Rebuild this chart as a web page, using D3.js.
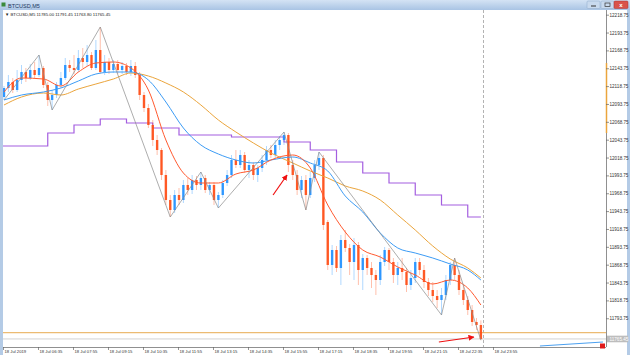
<!DOCTYPE html>
<html><head><meta charset="utf-8">
<script src="https://cdn.jsdelivr.net/npm/d3@7"></script>
<style>html,body{margin:0;padding:0;background:#fff;overflow:hidden}text{font-family:"Liberation Sans",Arial,sans-serif}</style>
</head><body><svg id="c" width="630" height="355"></svg>
<script>
const windowTitle = "BTCUSD,M5";
const header = "\u25BC BTCUSD,M5  11785.00 11791.45 11763.80 11765.45";

const open = [12104.2,12116.8,12125.2,12114,12128,12139.2,12130.8,12142,12135,12144.8,12121,12100,12107,12121,12130.8,
12149,12144.8,12142,12158.8,12153.2,12163,
12144.8,12170,12139.2,12153.2,12142,12150.4,12142,12147.6,12139.2,12147.6,
12135,12107,12088.8,12065,12044,12030,11995,11960,11946,11967,
11960,11981,11974,11988,11981,11990.8,11974,11981,11960,
11967,11983.8,11995,12016,12009,12023,12002,12009,11995,12004.8,
12016,12030,12023,12037,12044,12051,12009,11995,11974,11988,
11967,11990.8,12009,12018.8,11929.2,11869,11890,11864.8,11904,11892.8,
11873.2,11897,11862,11878.8,11864.8,11855,11848,11873.2,11890,11873.2,
11855,11864.8,11859.2,11841,11850.8,11873.2,11862,11845.2,11834,11825.6,
11820,11827,11848,11869,11855,11834,11820,11806,11789.2,11785];
const close = [12116.8,12125.2,12114,12128,12139.2,12130.8,12142,12135,12144.8,12121,12100,12107,12121,12130.8,12149,
12144.8,12142,12158.8,12153.2,12163,12144.8,
12170,12139.2,12153.2,12142,12150.4,12142,12147.6,12139.2,12147.6,12135,
12107,12088.8,12065,12044,12030,11995,11960,11946,11967,11960,
11981,11974,11988,11981,11990.8,11974,11981,11960,11967,
11983.8,11995,12016,12009,12023,12002,12009,11995,12004.8,12016,
12030,12023,12037,12044,12051,12009,11995,11974,11988,11967,
11990.8,12009,12018.8,11925,11869,11890,11864.8,11904,11892.8,11873.2,
11897,11862,11878.8,11864.8,11855,11848,11873.2,11890,11873.2,11855,
11864.8,11859.2,11841,11850.8,11873.2,11862,11845.2,11834,11825.6,11820,
11827,11848,11869,11855,11834,11820,11806,11789.2,11785,11765.45];
const high = [12119.6,12135,12130.8,12142,12149,12144.8,12150.4,12153.2,12163,12147.6,12125.2,12114,12125.2,12139.2,12158.8,
12156,12163,12170,12172.8,12177,12167.2,
12184,12202.2,12163,12158.8,12156,12156,12153.2,12151.8,12156,12153.2,
12139.2,12111.2,12094.4,12072,12051,12032.8,12002,11967,11974,11976.8,
11988,11990.8,11995,11993.6,11999.2,11995,11985.2,11985,11971.2,
11988,12002,12023,12030,12030,12027.2,12016,12013.2,12009,12023,
12035.6,12037,12044,12049.6,12055.2,12053.8,12016,12002,11993.6,11995,
11999.2,12016,12027.2,12023,11932,11897,11895.6,11911,11918,11898.4,
11906.8,11901.2,11884.4,11883,11873.2,11862,11883,11894.2,11892.8,11878.8,
11873.2,11878.8,11864.8,11862,11878.8,11878.8,11869,11850.8,11845.2,11834,
11836.8,11855,11873.2,11878.8,11862,11841,11825.6,11813,11794.8,11791.45];
const low = [12100,12111.2,12109.8,12111.2,12122.4,12125.2,12128,12130.8,12132.2,12116.8,12091.6,12086,12102.8,12116.8,12128,
12139.2,12136.4,12139.2,12144.8,12147.6,12142,
12142,12136.4,12135,12136.4,12137.8,12136.4,12136.4,12135,12133.6,12130.8,
12100,12083.2,12060.8,12035.6,12023,11988,11953,11936.2,11941.8,11953,
11955.8,11967,11968.4,11974,11974,11969.8,11967,11953,11948.8,
11962.8,11979.6,11990.8,12004.8,12004.8,11997.8,11990.8,11988,11985.2,11999.2,
12009,12018.8,12018.8,12030,12037,11999.2,11988,11967,11962.8,11946,
11962.8,11985.2,12002,11918,11862,11855,11859.2,11841,11887.2,11855,
11848,11841,11834,11855,11836.8,11827,11841,11867.6,11862,11843.8,
11841,11848,11831.2,11834,11843.8,11855,11836.8,11825.6,11817.2,11808.8,
11799,11820,11841,11848,11827,11813,11799,11783.6,11778,11763.8];

const maBars = [0,4,9,13,17,21,25,29,33,37,41,45,49,53,57,61,66,70,74,78,82,86,90,94,98,102,106,109];
const maFast = [12111.2,12130.8,12129.4,12119.6,12139.2,12151.8,12153.2,12144.8,12114,12044,11997.8,11983.8,11983.8,11996.4,12002,12016,12023,12004.8,11953,11915.2,11890,11880.2,11866.2,11855,11842.4,11848,11836.8,11813];
const maMid = [12100,12107,12111.2,12116.8,12126.6,12136.4,12139.2,12139.2,12128,12097.2,12060.8,12037,12024.4,12016,12011.8,12016,12020.2,12011.8,12000.6,11965.6,11943.2,11913.8,11892.8,11885.8,11878.8,11870.4,11862,11848];
const maSlow = [12093,12104.2,12109.8,12107,12115.4,12122.4,12129.4,12137.8,12133.6,12123.8,12111.2,12093,12072,12055.2,12039.8,12025.8,12011.8,12000.6,11990.8,11979.6,11972.6,11960,11939,11918,11895.6,11877.4,11864.8,11850.8];

const stepBars = [0,10,16,22,28,34,40,52,64,70,76,82,88,94,100,106];
const stepVals = [12035.6,12053.8,12065,12073.4,12067.8,12060.8,12051,12048.2,12041.2,12030,12013.2,11997.8,11983.8,11967,11953,11936.2];

const zigBars = [0,8,11,22,38,45,49,64,69,72,100,103,109];
const zigVals = [12100,12163,12086,12202.2,11936.2,11999.2,11948.8,12055.2,11946,12027.2,11799,11878.8,11763.8];

const priceTicks = ["12218.75","12193.75","12168.75","12143.75","12118.75","12093.75","12068.75","12043.75","12018.75","11993.75","11968.75","11943.75","11918.75","11893.75","11868.75","11843.75","11818.75","11793.75"];
const timeTickBars = [0,8,16,24,32,40,48,56,64,72,80,88,96,104,112];
const timeTickLabels = ["18 Jul 2019","18 Jul 06:35","18 Jul 07:55","18 Jul 09:15","18 Jul 10:35","18 Jul 11:55","18 Jul 13:15","18 Jul 14:35","18 Jul 15:55","18 Jul 17:15","18 Jul 18:35","18 Jul 19:55","18 Jul 21:15","18 Jul 22:35","18 Jul 23:55"];

const hLevel = 11774.2;
const axisMarkFrom = 12151.8, axisMarkTo = 12053.8;
const nowBar = 109.6;
const arrowsFrom = [[61.5, 11967], [99.4, 11761.2]];
const arrowsTo = [[64.7, 11995], [107.4, 11768.2]];
const trendFrom = [122.5, 11755.6], trendTo = [136.9, 11761.2];

const W = 630, H = 355;
const plot = {l: 3, r: 606, t: 10, b: 347};
const svg = d3.select("#c");
const x = d3.scaleLinear().domain([0, 109]).range([4, 4 + 4.375 * 109]);
const y = d3.scaleLinear().domain([12240, 11764]).range([0, 340]);

// window frame
svg.append("rect").attr("width", W).attr("height", H).attr("fill", "#b4cbe6");
const defs = svg.append("defs");
const g1 = defs.append("linearGradient").attr("id", "tb").attr("x1", 0).attr("y1", 0).attr("x2", 0).attr("y2", 1);
g1.append("stop").attr("offset", 0).attr("stop-color", "#d4e3f4");
g1.append("stop").attr("offset", 1).attr("stop-color", "#a9c4e4");
svg.append("rect").attr("width", W).attr("height", 10).attr("fill", "url(#tb)");
svg.append("rect").attr("x", 1.5).attr("y", 2.5).attr("width", 4).attr("height", 4).attr("fill", "#3a8a3a");
svg.append("text").attr("x", 8).attr("y", 7.6).attr("font-size", 5.5).attr("fill", "#1e3a5f").text(windowTitle);
[[587, "#c9daee"], [601, "#c9daee"]].forEach(([bx, c]) => {
  svg.append("rect").attr("x", bx).attr("y", 1).attr("width", 13).attr("height", 7.5).attr("rx", 1).attr("fill", c).attr("stroke", "#8fa9c8").attr("stroke-width", 0.5);
});
svg.append("line").attr("x1", 591).attr("x2", 596).attr("y1", 6).attr("y2", 6).attr("stroke", "#333").attr("stroke-width", 1);
svg.append("rect").attr("x", 605).attr("y", 3).attr("width", 5).attr("height", 3.5).attr("fill", "none").attr("stroke", "#333").attr("stroke-width", 0.7);
svg.append("rect").attr("x", 614).attr("y", 1).attr("width", 14).attr("height", 7.5).attr("rx", 1).attr("fill", "#d9534a").attr("stroke", "#a33").attr("stroke-width", 0.5);
svg.append("text").attr("x", 621).attr("y", 7.2).attr("text-anchor", "middle").attr("font-size", 6).attr("font-weight", "bold").attr("fill", "#fff").text("x");

// client area
svg.append("rect").attr("x", 3).attr("y", 10).attr("width", 624).attr("height", H - 10).attr("fill", "#fff");

defs.append("clipPath").attr("id", "pc").append("rect")
  .attr("x", plot.l).attr("y", plot.t).attr("width", plot.r - plot.l).attr("height", plot.b - plot.t);
const P = svg.append("g").attr("clip-path", "url(#pc)");

// current-time dashed line
P.append("line").attr("x1", x(nowBar)).attr("x2", x(nowBar)).attr("y1", plot.t).attr("y2", plot.b)
  .attr("stroke", "#a0a0a0").attr("stroke-width", 0.8).attr("stroke-dasharray", "3,2");

// horizontal level + bid line
P.append("line").attr("x1", plot.l).attr("x2", plot.r).attr("y1", y(hLevel)).attr("y2", y(hLevel))
  .attr("stroke", "#e8aa50").attr("stroke-width", 1);
const lastClose = close[close.length - 1];
P.append("line").attr("x1", plot.l).attr("x2", plot.r).attr("y1", y(lastClose)).attr("y2", y(lastClose))
  .attr("stroke", "#c8c8c8").attr("stroke-width", 0.8);

// purple step line
const stepData = stepBars.map((b, i) => [b, stepVals[i]]);
stepData.push([109, stepVals[stepVals.length - 1]]);
P.append("path").datum(stepData)
  .attr("d", d3.line().x(d => x(d[0]) - (d[0] === 0 ? 1 : 0)).y(d => y(d[1])).curve(d3.curveStepAfter))
  .attr("fill", "none").attr("stroke", "#a45ee0").attr("stroke-width", 1.2);

// candles
const bars = open.map((o, i) => ({i, o, h: high[i], l: low[i], c: close[i]}));
const col = d => d.c >= d.o ? "#1e8fff" : "#ff4a12";
P.selectAll(".wick").data(bars).join("line")
  .attr("x1", d => x(d.i)).attr("x2", d => x(d.i)).attr("y1", d => y(d.h)).attr("y2", d => y(d.l))
  .attr("stroke", col).attr("stroke-opacity", 0.35).attr("stroke-width", 1);
P.selectAll(".body").data(bars).join("rect")
  .attr("x", d => x(d.i) - 1.2).attr("width", 2.4)
  .attr("y", d => Math.min(y(d.o), y(d.c)))
  .attr("height", d => Math.max(1, Math.abs(y(d.o) - y(d.c))))
  .attr("fill", col).attr("fill-opacity", 0.9);

// moving averages
const maLine = d3.line().x((d, i) => x(maBars[i])).y(d => y(d)).curve(d3.curveMonotoneX);
P.append("path").datum(maSlow).attr("d", maLine).attr("fill", "none").attr("stroke", "#eba53c").attr("stroke-width", 1);
P.append("path").datum(maMid).attr("d", maLine).attr("fill", "none").attr("stroke", "#3d9cf5").attr("stroke-width", 1);
P.append("path").datum(maFast).attr("d", maLine).attr("fill", "none").attr("stroke", "#ff5a30").attr("stroke-width", 1);

// zigzag
P.append("path").datum(zigBars.map((b, i) => [b, zigVals[i]]))
  .attr("d", d3.line().x(d => x(d[0])).y(d => y(d[1])))
  .attr("fill", "none").attr("stroke", "#8a8a8a").attr("stroke-width", 0.7);

// trend line near bottom
P.append("line").attr("x1", x(trendFrom[0])).attr("y1", y(trendFrom[1])).attr("x2", x(trendTo[0])).attr("y2", y(trendTo[1]))
  .attr("stroke", "#4aa0f0").attr("stroke-width", 1);

// arrows
defs.append("marker").attr("id", "ah").attr("viewBox", "0 0 10 10").attr("refX", 9).attr("refY", 5)
  .attr("markerWidth", 5).attr("markerHeight", 5).attr("orient", "auto")
  .append("path").attr("d", "M0,0L10,5L0,10z").attr("fill", "#f01010");
arrowsFrom.forEach((f, k) => {
  const t = arrowsTo[k];
  svg.append("line").attr("x1", x(f[0])).attr("y1", y(f[1])).attr("x2", x(t[0])).attr("y2", y(t[1]))
    .attr("stroke", "#f01010").attr("stroke-width", 1.2).attr("marker-end", "url(#ah)");
});

// axes
svg.append("line").attr("x1", plot.r + 0.5).attr("x2", plot.r + 0.5).attr("y1", plot.t).attr("y2", plot.b)
  .attr("stroke", "#909090").attr("stroke-width", 1);
svg.append("line").attr("x1", plot.l).attr("x2", plot.r).attr("y1", plot.b + 0.5).attr("y2", plot.b + 0.5)
  .attr("stroke", "#909090").attr("stroke-width", 1);
svg.append("line").attr("x1", plot.r + 0.5).attr("x2", plot.r + 0.5).attr("y1", y(axisMarkFrom)).attr("y2", y(axisMarkTo))
  .attr("stroke", "#eba53c").attr("stroke-width", 1.5);

const yAxis = svg.append("g");
priceTicks.forEach(t => {
  const yy = y(+t);
  yAxis.append("line").attr("x1", plot.r).attr("x2", plot.r + 3).attr("y1", yy).attr("y2", yy).attr("stroke", "#666").attr("stroke-width", 0.7);
  yAxis.append("text").attr("x", plot.r + 3.5).attr("y", yy + 1.6).attr("font-size", 4.6).attr("fill", "#333").text(t);
});
// current price box
svg.append("rect").attr("x", plot.r + 1).attr("y", y(lastClose) - 3.3).attr("width", 21).attr("height", 6.6).attr("fill", "#bdbdbd");
svg.append("text").attr("x", plot.r + 3.5).attr("y", y(lastClose) + 1.6).attr("font-size", 4.6).attr("fill", "#fff").text(lastClose.toFixed(2));
svg.append("rect").attr("x", 600).attr("y", 343.5).attr("width", 5).attr("height", 5).attr("fill", "#e01b1b");

const xAxis = svg.append("g");
timeTickBars.forEach((b, i) => {
  const xx = x(b) - 0.5;
  xAxis.append("line").attr("x1", xx).attr("x2", xx).attr("y1", plot.b).attr("y2", plot.b + 3).attr("stroke", "#666").attr("stroke-width", 0.7);
  xAxis.append("text").attr("x", xx + 1).attr("y", 353).attr("font-size", 4.2).attr("fill", "#333").text(timeTickLabels[i]);
});

// header
svg.append("text").attr("x", 5).attr("y", 16).attr("font-size", 4.3).attr("fill", "#222").text(header);
</script></body></html>
